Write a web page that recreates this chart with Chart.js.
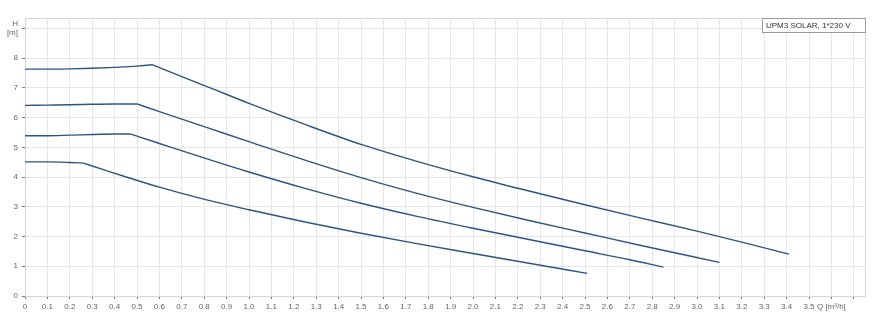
<!DOCTYPE html>
<html>
<head>
<meta charset="utf-8">
<script src="https://cdn.jsdelivr.net/npm/chart.js@4/dist/chart.umd.min.js"></script>
<style>
  html, body { margin: 0; padding: 0; background: #fff; }
  #wrap { width: 882px; height: 330px; position: relative; }
</style>
</head>
<body>
<div id="wrap"><canvas id="c" width="882" height="330"></canvas></div>
<script>
// Flow Q [m³/h] and head H [m] for the four speed curves
const q1 = [0, 0.1, 0.2, 0.3, 0.4, 0.5, 0.567, 0.7, 0.83, 1.0, 1.25, 1.5, 1.75, 2.0, 2.25, 2.5, 2.75, 3.0, 3.2, 3.41];
const h1 = [7.63, 7.63, 7.64, 7.66, 7.69, 7.73, 7.78, 7.38, 6.99, 6.48, 5.77, 5.10, 4.53, 4.01, 3.53, 3.07, 2.62, 2.18, 1.81, 1.41];

const q2 = [0, 0.1, 0.2, 0.3, 0.4, 0.5, 0.6, 0.83, 1.0, 1.25, 1.5, 1.75, 2.0, 2.25, 2.5, 2.75, 3.1];
const h2 = [6.41, 6.42, 6.43, 6.45, 6.46, 6.46, 6.20, 5.62, 5.19, 4.57, 3.98, 3.45, 2.98, 2.54, 2.12, 1.70, 1.13];

const q3 = [0, 0.1, 0.2, 0.3, 0.4, 0.47, 0.6, 0.83, 1.0, 1.25, 1.5, 1.75, 2.0, 2.25, 2.5, 2.7, 2.85];
const h3 = [5.39, 5.39, 5.41, 5.43, 5.45, 5.45, 5.13, 4.57, 4.17, 3.62, 3.12, 2.68, 2.28, 1.90, 1.52, 1.22, 0.97];

const q4 = [0, 0.1, 0.2, 0.26, 0.35, 0.47, 0.6, 0.78, 1.0, 1.25, 1.5, 1.75, 2.0, 2.25, 2.51];
const h4 = [4.51, 4.51, 4.49, 4.47, 4.25, 3.96, 3.66, 3.29, 2.90, 2.49, 2.11, 1.76, 1.43, 1.10, 0.76];

// flow at which each curve leaves its flat (max-speed) section
const kneeQ = [0.567, 0.5, 0.47, 0.26];

const xTickValues = [0, 0.1, 0.2, 0.3, 0.4, 0.5, 0.6, 0.7, 0.8, 0.9, 1.0, 1.1, 1.2, 1.3, 1.4, 1.5, 1.6, 1.7, 1.8, 1.9,
                     2.0, 2.1, 2.2, 2.3, 2.4, 2.5, 2.6, 2.7, 2.8, 2.9, 3.0, 3.1, 3.2, 3.3, 3.4, 3.5, 3.6, 3.7];
const xTickLabels = ['0', '0.1', '0.2', '0.3', '0.4', '0.5', '0.6', '0.7', '0.8', '0.9', '1.0', '1.1', '1.2', '1.3', '1.4',
                     '1.5', '1.6', '1.7', '1.8', '1.9', '2.0', '2.1', '2.2', '2.3', '2.4', '2.5', '2.6', '2.7', '2.8', '2.9',
                     '3.0', '3.1', '3.2', '3.3', '3.4', '3.5', 'Q [m³/h]', ''];
const yTickValues = [0, 1, 2, 3, 4, 5, 6, 7, 8, 9];
const yTickLabels = ['0', '1', '2', '3', '4', '5', '6', '7', '8', ['H', '[m]']];
const legendText = 'UPM3 SOLAR, 1*230 V';

const lineColor = '#2c5580';
const seg = (q, h, keep) => ({
  data: q.map((v, i) => ({ x: v, y: h[i] })).filter(p => keep(p.x)),
  borderColor: lineColor,
  borderWidth: 1.4,
  pointRadius: 0,
  fill: false,
  cubicInterpolationMode: 'monotone'
});
const curves = [[q1, h1], [q2, h2], [q3, h3], [q4, h4]];
const datasets = [];
curves.forEach(([q, h], k) => {
  const kq = kneeQ[k];
  datasets.push(seg(q, h, x => x <= kq + 1e-9));
  datasets.push(seg(q, h, x => x >= kq - 1e-9));
});

const frame = {
  id: 'frame',
  beforeDatasetsDraw(chart) {
    const { ctx, chartArea: a } = chart;
    ctx.save();
    ctx.strokeStyle = '#d6d6d6';
    ctx.lineWidth = 1;
    ctx.strokeRect(a.left + 0.5, a.top + 0.5, a.right - a.left, a.bottom - a.top);
    ctx.restore();
  },
  afterDraw(chart) {
    const { ctx, chartArea: a } = chart;
    ctx.save();
    ctx.font = '8px "Liberation Sans", Arial, sans-serif';
    const w = 104, h = 15;
    const x = a.right - w + 1, y = a.top;
    ctx.fillStyle = '#fff';
    ctx.fillRect(x, y, w, h);
    ctx.strokeStyle = '#9a9a9a';
    ctx.lineWidth = 1;
    ctx.strokeRect(x + 0.5, y + 0.5, w - 1, h - 1);
    ctx.fillStyle = '#333';
    ctx.textBaseline = 'middle';
    ctx.fillText(legendText, x + 4, y + h / 2 + 0.5);
    ctx.restore();
  }
};

new Chart(document.getElementById('c'), {
  type: 'line',
  data: { datasets },
  options: {
    responsive: false,
    animation: false,
    layout: { padding: { left: 0, right: 17, top: 18, bottom: 0 } },
    plugins: { legend: { display: false }, tooltip: { enabled: false } },
    scales: {
      x: {
        type: 'linear',
        min: 0,
        max: 3.75,
        afterBuildTicks: s => { s.ticks = xTickValues.map(v => ({ value: v })); },
        afterFit: s => { s.height = 34; },
        ticks: {
          autoSkip: false,
          maxRotation: 0,
          padding: 3,
          color: '#666',
          font: { family: '"Liberation Sans", Arial, sans-serif', size: 8 },
          callback: (v, i) => xTickLabels[i]
        },
        grid: { color: '#e6e6e6', tickColor: '#777', tickLength: 3, lineWidth: 1 },
        border: { color: '#777', width: 1 }
      },
      y: {
        type: 'linear',
        min: 0,
        max: 9.35,
        afterBuildTicks: s => { s.ticks = yTickValues.map(v => ({ value: v })); },
        afterFit: s => { s.width = 25; },
        ticks: {
          autoSkip: false,
          padding: 4,
          color: '#666',
          font: { family: '"Liberation Sans", Arial, sans-serif', size: 8, lineHeight: 1.15 },
          callback: (v, i) => yTickLabels[i]
        },
        grid: { color: '#e6e6e6', tickColor: '#777', tickLength: 3, lineWidth: 1 },
        border: { color: '#777', width: 1 }
      }
    }
  },
  plugins: [frame]
});
</script>
</body>
</html>
